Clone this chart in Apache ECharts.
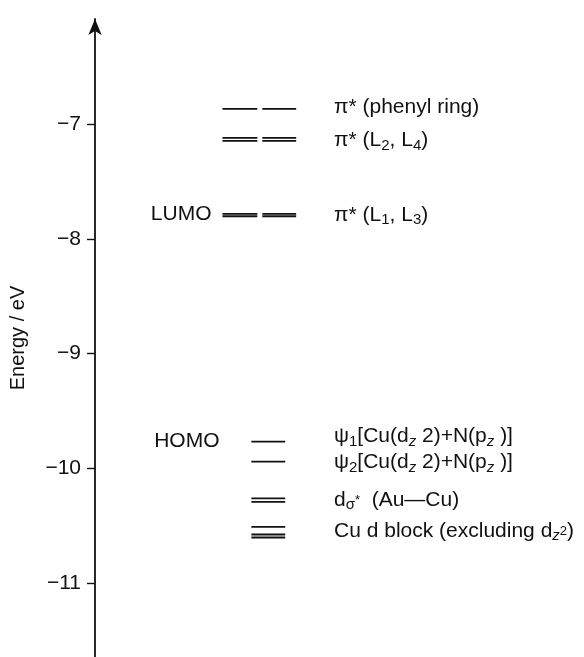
<!DOCTYPE html>
<html>
<head>
<meta charset="utf-8">
<script src="https://cdn.jsdelivr.net/npm/echarts@6/dist/echarts.min.js"></script>
<style>
html,body{margin:0;padding:0;background:#fff;}
#chart{width:584px;height:657px;}
</style>
</head>
<body>
<div id="chart"></div>
<script>
// ---- data ----
const tickValues = [-11, -10, -9, -8, -7];
const levelNames = [
  'π* (phenyl ring)',
  'π* (L{sub|2}, L{sub|4})',
  'π* (L{sub|1}, L{sub|3})',
  'ψ{sub|1}[Cu(d{subi|z} 2)+N(p{subi|z} )]',
  'ψ{sub|2}[Cu(d{subi|z} 2)+N(p{subi|z} )]',
  'd{sub|σ}{subs|*}  (Au—Cu)',
  'Cu d block (excluding d{subi|z}{subs|2})'
];
const phenylPi = [-6.87];
const l24Pi = [-7.122, -7.148];
const l13Pi = [-7.783, -7.804];
const psi1 = [-9.765];
const psi2 = [-9.94];
const dSigmaStar = [-10.26, -10.29];
const cuDBlock = [-10.507, -10.574, -10.60];
const frontierNames = ['LUMO', 'HOMO'];
const frontierEnergies = [-7.79, -9.765];

// ---- layout (pixel offsets from axis) ----
const PI_COLS = [[128, 163], [168, 202]];
const D_COLS = [[157, 191]];
const levelGroups = [
  [phenylPi, PI_COLS], [l24Pi, PI_COLS], [l13Pi, PI_COLS],
  [psi1, D_COLS], [psi2, D_COLS], [dSigmaStar, D_COLS], [cuDBlock, D_COLS]
];
const labelYOffsets = [-2, 1, 0, -5, 1, 0, -2];
const LABEL_X = 240;
const frontierX = [117, 125];

const lineData = [];
levelGroups.forEach(function (g) {
  g[0].forEach(function (e) {
    g[1].forEach(function (c) { lineData.push([c[0], c[1], e]); });
  });
});
const labelData = levelGroups.map(function (g, i) {
  const es = g[0];
  const m = es.reduce(function (a, b) { return a + b; }, 0) / es.length;
  return [LABEL_X, m, i];
});
const frontierData = frontierNames.map(function (n, i) { return [frontierX[i], frontierEnergies[i], i]; });

const FONT = '"Liberation Sans", Arial, Helvetica, sans-serif';
const rich = {
  sub: { fontSize: 15, lineHeight: 14, verticalAlign: 'bottom', fontFamily: FONT, fill: '#111' },
  subi: { fontSize: 15, lineHeight: 14, verticalAlign: 'bottom', fontStyle: 'italic', fontFamily: FONT, fill: '#111' },
  subs: { fontSize: 13, lineHeight: 13, verticalAlign: 'middle', fontFamily: FONT, fill: '#111' }
};

const chart = echarts.init(document.getElementById('chart'), null, { renderer: 'canvas' });
chart.setOption({
  animation: false,
  backgroundColor: '#fff',
  grid: { left: 93, right: 0, top: 19, bottom: 0, containLabel: false },
  xAxis: { type: 'value', min: 0, max: 491, show: false },
  yAxis: {
    type: 'value', min: -11.64, max: -6.087,
    name: 'Energy / eV', nameLocation: 'middle', nameGap: 67,
    nameTextStyle: { fontSize: 20, color: '#111', fontFamily: FONT },
    axisLine: { show: true, symbol: ['none', 'arrow'], symbolSize: [10, 16], lineStyle: { color: '#111', width: 1.8 } },
    axisTick: { show: true, customValues: tickValues, length: 8, inside: false, lineStyle: { color: '#111', width: 1.4 } },
    axisLabel: {
      customValues: tickValues, margin: 14, fontSize: 21, color: '#111', fontFamily: FONT,
      formatter: function (v) { return '−' + Math.abs(v); }
    },
    splitLine: { show: false }
  },
  series: [
    {
      type: 'custom', data: lineData, silent: true,
      renderItem: function (params, api) {
        const p1 = api.coord([api.value(0), api.value(2)]);
        const p2 = api.coord([api.value(1), api.value(2)]);
        return { type: 'line', shape: { x1: p1[0], y1: p1[1], x2: p2[0], y2: p2[1] },
          style: { stroke: '#111', lineWidth: 1.8 } };
      }
    },
    {
      type: 'custom', data: labelData, silent: true,
      renderItem: function (params, api) {
        const i = api.value(2);
        const p = api.coord([api.value(0), api.value(1)]);
        return { type: 'text', x: p[0], y: p[1] + labelYOffsets[i],
          style: { text: levelNames[i], rich: rich, fontSize: 21, lineHeight: 25, fontFamily: FONT,
            fill: '#111', align: 'left', verticalAlign: 'middle' } };
      }
    },
    {
      type: 'custom', data: frontierData, silent: true,
      renderItem: function (params, api) {
        const i = api.value(2);
        const p = api.coord([api.value(0), api.value(1)]);
        return { type: 'text', x: p[0], y: p[1],
          style: { text: frontierNames[i], fontSize: 21, fontFamily: FONT,
            fill: '#111', align: 'right', verticalAlign: 'middle' } };
      }
    }
  ]
});
</script>
</body>
</html>
